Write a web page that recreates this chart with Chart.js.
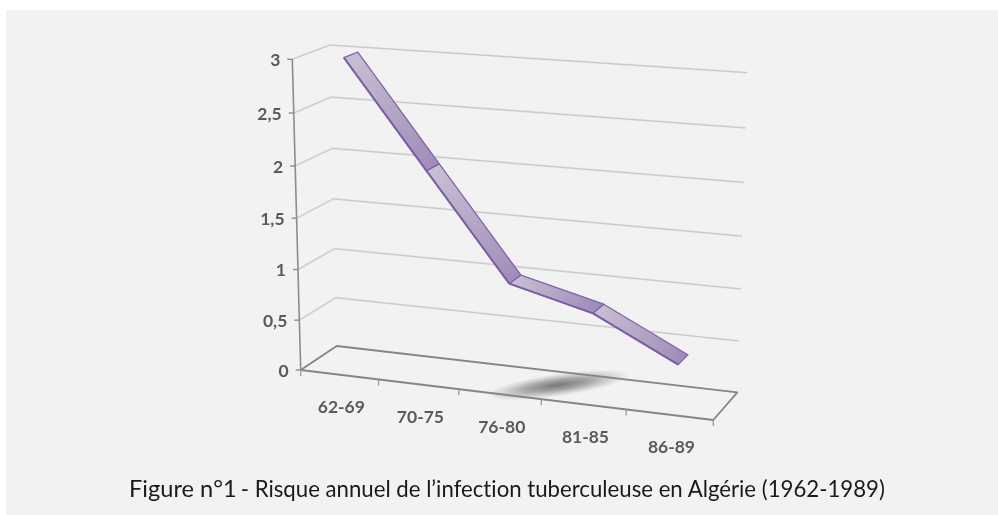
<!DOCTYPE html>
<html>
<head>
<meta charset="utf-8">
<style>
  html, body { margin: 0; padding: 0; background: #fff; overflow: hidden; }
  #panel { position: absolute; left: 6px; top: 10px; width: 992px; height: 505px; background: #f2f2f2; }
  #riskChart { position: absolute; left: 0; top: 0; filter: blur(0.6px); }
  #caption { position: absolute; left: 129px; top: 474px; white-space: nowrap; font-family: Lato, sans-serif; color: #1a1a1a; filter: blur(0.3px); font-variant-ligatures: none; }
  #caption .big { font-size: 23.6px; }
  #caption .small { font-size: 22.2px; }
</style>
</head>
<body>
<div id="panel"></div>
<canvas id="riskChart" width="998" height="515"></canvas>
<div id="caption"><span class="big">Figure n°1</span> <span class="small">- Risque annuel de l’infection tuberculeuse en Algérie (1962-1989)</span></div>
<script src="https://cdn.jsdelivr.net/npm/chart.js@4"></script>
<script>
const periods = ['62-69', '70-75', '76-80', '81-85', '86-89'];
const annualRisk = [3, 2, 1, 0.8, 0.4];

// corners of the 3D box on the page: [x, y] at value 0 and at value 3
const frontLeft = [[300.7, 370], [292.3, 59.3]];
const backLeft = [[336.7, 346], [330, 45]];
const backRight = [[737.3, 392.3], [747.3, 72.7]];
const frontRight = [[713.3, 420], [722, 90]];

const mix = (a, b, t) => [a[0] + (b[0] - a[0]) * t, a[1] + (b[1] - a[1]) * t];

// u = 0..1 along categories, v = 0..1 along values, d = 0..1 depth
function project(u, v, d) {
  const uu = u - 0.07 * u * (1 - u);
  const vv = v - 0.045 * v * (1 - v);
  const fl = mix(frontLeft[0], frontLeft[1], vv);
  const bl = mix(backLeft[0], backLeft[1], vv);
  const br = mix(backRight[0], backRight[1], vv);
  const fr = mix(frontRight[0], frontRight[1], vv);
  return mix(mix(fl, fr, uu), mix(bl, br, uu), d);
}

function stroke(ctx, pts, color, width) {
  ctx.beginPath();
  pts.forEach((p, i) => (i ? ctx.lineTo(p[0], p[1]) : ctx.moveTo(p[0], p[1])));
  ctx.strokeStyle = color;
  ctx.lineWidth = width;
  ctx.stroke();
}

const boxPlugin = {
  id: 'box3d',
  beforeDatasetsDraw(chart) {
    const ctx = chart.ctx;
    const { x, y } = chart.scales;
    const area = chart.chartArea;
    const toV = (value) => (area.bottom - y.getPixelForValue(value)) / area.height;
    ctx.save();
    ctx.lineJoin = 'round';

    // gridlines on both walls
    y.ticks.forEach((t) => {
      if (t.value === 0) return;
      const v = toV(t.value);
      const line = [project(0, v, 0), project(0, v, 1), project(1, v, 1)];
      stroke(ctx, line, '#e2e2e2', 2.2);
      stroke(ctx, line, '#bcbcbc', 0.7);
    });

    // floor shadow of the line
    const c = project(0.6, 0, 0.5);
    ctx.save();
    ctx.translate(c[0] + 2, c[1] - 1);
    ctx.rotate(-0.14);
    ctx.scale(1, 0.16);
    const g = ctx.createRadialGradient(0, 0, 0, 0, 0, 72);
    g.addColorStop(0, 'rgba(105,105,105,0.9)');
    g.addColorStop(0.45, 'rgba(120,120,120,0.62)');
    g.addColorStop(1, 'rgba(150,150,150,0)');
    ctx.fillStyle = g;
    ctx.beginPath();
    ctx.arc(0, 0, 72, 0, Math.PI * 2);
    ctx.fill();
    ctx.restore();

    // floor outline
    stroke(ctx, [project(0, 0, 0), project(0, 0, 1), project(1, 0, 1), project(1, 0, 0), project(0, 0, 0)], '#858585', 1.8);

    // value axis and its ticks
    stroke(ctx, [project(0, 0, 0), project(0, 1, 0)], '#8c8c8c', 1.6);
    ctx.fillStyle = '#5a5a5a';
    ctx.font = 'bold 17.5px Lato, sans-serif';
    ctx.textAlign = 'right';
    ctx.textBaseline = 'middle';
    y.ticks.forEach((t) => {
      const p = project(0, toV(t.value), 0);
      stroke(ctx, [[p[0] - 5, p[1]], p], '#8c8c8c', 1.4);
      ctx.fillText(t.label, p[0] - 12, p[1] + 1);
    });

    // category ticks and labels
    const n = periods.length;
    for (let i = 0; i <= n; i++) {
      const p = project(i / n, 0, 0);
      stroke(ctx, [p, [p[0], p[1] + 6]], '#9a9a9a', 1.3);
    }
    ctx.textAlign = 'center';
    periods.forEach((label, i) => {
      const u = (x.getPixelForValue(i) - area.left) / area.width;
      const p = project(u, 0, 0);
      ctx.fillText(label, p[0] + 2, p[1] + 33);
    });
    ctx.restore();
  },
  afterDatasetsDraw(chart) {
    const ctx = chart.ctx;
    const area = chart.chartArea;
    const points = chart.getDatasetMeta(0).data;
    const uv = points.map((pt) => [(pt.x - area.left) / area.width, (area.bottom - pt.y) / area.height]);
    ctx.save();
    ctx.lineJoin = 'round';
    for (let i = 0; i < uv.length - 1; i++) {
      const a = uv[i];
      const b = uv[i + 1];
      const f0 = project(a[0], a[1], 0.31);
      const f1 = project(b[0], b[1], 0.31);
      const b0 = project(a[0], a[1], 0.69);
      const b1 = project(b[0], b[1], 0.69);
      const g = ctx.createLinearGradient(f0[0], f0[1], f1[0], f1[1]);
      g.addColorStop(0, '#c8c1d3');
      g.addColorStop(1, '#a18cba');
      ctx.beginPath();
      ctx.moveTo(f0[0], f0[1]);
      ctx.lineTo(f1[0], f1[1]);
      ctx.lineTo(b1[0], b1[1]);
      ctx.lineTo(b0[0], b0[1]);
      ctx.closePath();
      ctx.fillStyle = g;
      ctx.fill();
      ctx.strokeStyle = '#8064a8';
      ctx.lineWidth = 1.3;
      ctx.stroke();
      stroke(ctx, [f0, f1], '#7d5ea6', 2);
    }
    ctx.restore();
  }
};

new Chart(document.getElementById('riskChart').getContext('2d'), {
  type: 'line',
  data: {
    labels: periods,
    datasets: [{ label: 'Risque annuel', data: annualRisk, showLine: false, pointRadius: 0 }]
  },
  options: {
    responsive: false,
    animation: false,
    layout: { padding: 0 },
    plugins: { legend: { display: false }, tooltip: { enabled: false } },
    scales: {
      x: { display: false, offset: true },
      y: {
        display: false,
        min: 0,
        max: 3,
        ticks: { stepSize: 0.5, callback: (v) => String(v).replace('.', ',') }
      }
    }
  },
  plugins: [boxPlugin]
});
</script>
</body>
</html>
